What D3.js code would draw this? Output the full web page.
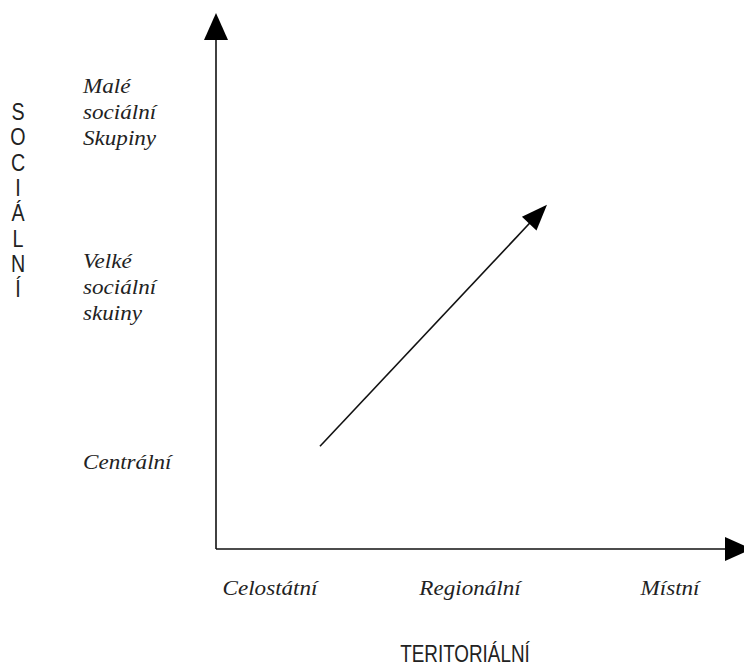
<!DOCTYPE html>
<html lang="cs">
<head>
<meta charset="UTF-8">
<title>Sociální a teritoriální</title>
<style>
  body { margin: 0; background: #fff; }
  svg { display: block; }
  .lab { font-family: "Liberation Serif", "Times New Roman", serif; font-style: italic; font-size: 22px; fill: #222; }
  .ttl { font-family: "Liberation Sans", Arial, sans-serif; fill: #222; }
</style>
</head>
<body>
<svg width="744" height="666"></svg>
<script src="https://d3js.org/d3.v7.min.js"></script>
<script>
var xCategories = ["Celostátní", "Regionální", "Místní"];
var yCategories = [["Centrální"], ["Velké", "sociální", "skuiny"], ["Malé", "sociální", "Skupiny"]];
var xTitle = "TERITORIÁLNÍ";
var yTitle = "SOCIÁLNÍ";
// trend arrow, in category units (0 = first category)
var trendX = [0.25, 1.385];
var trendY = [0.13, 1.51];

var svg = d3.select("svg");

var originX = 216, originY = 549;
var axisTopY = 13, axisRightX = 752;
var narrow = 0.82; // titles were set in a narrow sans

var x = d3.scalePoint().domain(xCategories).range([270, 670]);
var y = d3.scalePoint().domain(yCategories.map(function(d) { return d.join(" "); })).range([469, 119]);
var xv = d3.scaleLinear().domain([0, xCategories.length - 1]).range([270, 670]);
var yv = d3.scaleLinear().domain([0, yCategories.length - 1]).range([469, 119]);

function arrowHead(x1, y1, x2, y2, len, half) {
  var a = Math.atan2(y2 - y1, x2 - x1);
  var bx = x2 - len * Math.cos(a), by = y2 - len * Math.sin(a);
  var px = -Math.sin(a) * half, py = Math.cos(a) * half;
  return "M" + x2 + "," + y2 + "L" + (bx + px) + "," + (by + py) + "L" + (bx - px) + "," + (by - py) + "Z";
}

// axes
svg.append("line").attr("x1", originX).attr("y1", originY).attr("x2", originX).attr("y2", axisTopY + 20)
  .attr("stroke", "#111").attr("stroke-width", 1.6);
svg.append("path").attr("d", arrowHead(originX, originY, originX, axisTopY, 27, 12)).attr("fill", "#000");

svg.append("line").attr("x1", originX).attr("y1", originY).attr("x2", axisRightX - 20).attr("y2", originY)
  .attr("stroke", "#111").attr("stroke-width", 1.6);
svg.append("path").attr("d", arrowHead(originX, originY, axisRightX, originY, 27, 12)).attr("fill", "#000");

// x labels
svg.selectAll(".xl").data(xCategories).enter().append("text")
  .attr("class", "lab xl")
  .attr("transform", function(d) { return "translate(" + x(d) + ",595) scale(1.05,1)"; })
  .attr("text-anchor", "middle")
  .text(function(d) { return d; });

// y labels (multi-line)
var yl = svg.selectAll(".yl").data(yCategories).enter().append("text")
  .attr("class", "lab yl")
  .attr("transform", function(d) { return "translate(83," + y(d.join(" ")) + ") scale(1.05,1)"; });
yl.selectAll("tspan").data(function(d) {
    var mid = (d.length - 1) / 2;
    return d.map(function(t, i) { return { t: t, off: (i - mid) * 26 }; });
  }).enter().append("tspan")
  .attr("x", 0)
  .attr("dy", function(d, i) { return i === 0 ? d.off : 26; })
  .text(function(d) { return d.t; });

// titles
svg.append("text").attr("class", "ttl")
  .attr("transform", "translate(465,662) scale(" + narrow + ",1)")
  .attr("text-anchor", "middle")
  .style("font-size", "23px")
  .text(xTitle);

svg.selectAll(".yt").data(Array.from(yTitle)).enter().append("text")
  .attr("class", "ttl yt")
  .attr("transform", function(d, i) { return "translate(18," + (120 + i * 25.3) + ") scale(" + narrow + ",1)"; })
  .attr("text-anchor", "middle")
  .style("font-size", "24px")
  .text(function(d) { return d; });

// trend arrow
var x1 = xv(trendX[0]), y1 = yv(trendY[0]), x2 = xv(trendX[1]), y2 = yv(trendY[1]);
var ang = Math.atan2(y2 - y1, x2 - x1);
svg.append("line").attr("x1", x1).attr("y1", y1)
  .attr("x2", x2 - 20 * Math.cos(ang)).attr("y2", y2 - 20 * Math.sin(ang))
  .attr("stroke", "#111").attr("stroke-width", 1.6);
svg.append("path").attr("d", arrowHead(x1, y1, x2, y2, 26, 10)).attr("fill", "#000");
</script>
</body>
</html>
